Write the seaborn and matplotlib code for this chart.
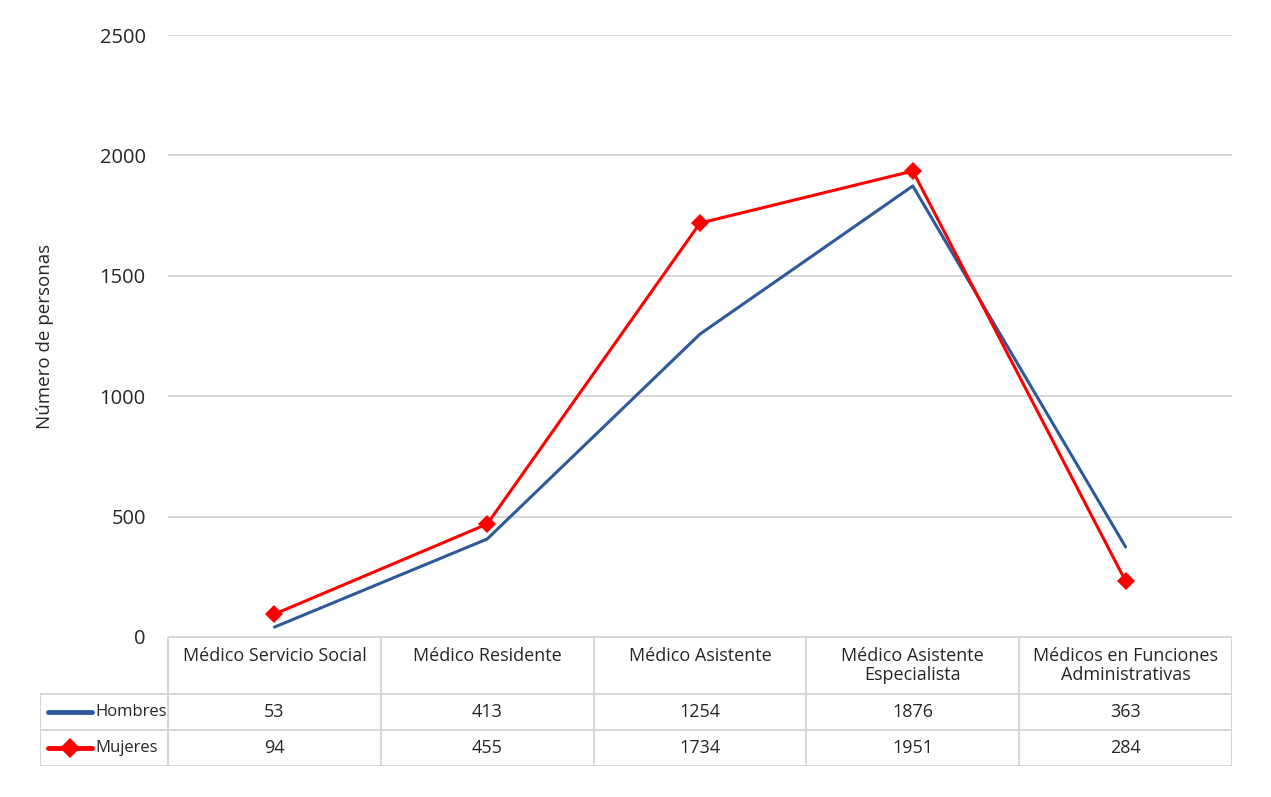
import pandas as pd
import numpy as np
import matplotlib
matplotlib.use('Agg')
import matplotlib.pyplot as plt
import seaborn as sns

categorias = ['Médico Servicio Social', 'Médico Residente', 'Médico Asistente',
              'Médico Asistente\nEspecialista', 'Médicos en Funciones\nAdministrativas']
# values as printed in the data table
hombres_tabla = [53, 413, 1254, 1876, 363]
mujeres_tabla = [94, 455, 1734, 1951, 284]
# values as the lines are drawn in the chart
hombres_linea = [41, 407, 1258, 1873, 374]
mujeres_linea = [95, 469, 1719, 1935, 232]
yticks = [0, 500, 1000, 1500, 2000, 2500]

azul = '#2E5A9C'
rojo = '#FF0000'
gris = '#D4D4D4'

sns.set_style('white')
plt.rcParams['font.family'] = ['Open Sans', 'DejaVu Sans']

W, H = 1271, 797
fig = plt.figure(figsize=(W / 100, H / 100), dpi=100)

def box(l, t, r, b):
    return [l / W, 1 - b / H, (r - l) / W, (b - t) / H]

ax = fig.add_axes(box(168, 35, 1232, 637))
df = pd.DataFrame({'x': list(range(5)) * 2,
                   'valor': hombres_linea + mujeres_linea,
                   'serie': ['Hombres'] * 5 + ['Mujeres'] * 5})
sns.lineplot(data=df[df.serie == 'Hombres'], x='x', y='valor', color=azul,
             linewidth=2.2, ax=ax, legend=False)
sns.lineplot(data=df[df.serie == 'Mujeres'], x='x', y='valor', color=rojo,
             linewidth=2.2, marker='D', markersize=9, markeredgewidth=0,
             ax=ax, legend=False)
ax.set_xlim(-0.5, 4.5)
ax.set_ylim(0, 2500)
ax.set_yticks(yticks)
ax.set_yticklabels([str(t) for t in yticks], fontsize=14.5)
ax.set_xticks([])
ax.set_xlabel('')
ax.set_ylabel('Número de personas', fontsize=13.5, labelpad=33)
ax.yaxis.grid(True, color=gris, linewidth=1.3)
ax.tick_params(axis='y', length=0, pad=16)
for s in ax.spines.values():
    s.set_visible(False)

# data table below the plot, sharing the category positions
unit = (1232 - 168) / 5.0
x_left = -0.5 - (168 - 40) / unit
tb = fig.add_axes(box(40, 637, 1232, 766))
tb.set_xlim(x_left, 4.5)
tb.set_ylim(129, 0)
tb.axis('off')
lw = 1.3
# header
tb.plot([-0.5, 4.5], [0, 0], color=gris, lw=lw)
for i in range(6):
    tb.plot([i - 0.5, i - 0.5], [0, 129], color=gris, lw=lw)
tb.plot([x_left, 4.5], [57, 57], color=gris, lw=lw)
tb.plot([x_left, 4.5], [93, 93], color=gris, lw=lw)
tb.plot([x_left, 4.5], [129, 129], color=gris, lw=lw)
tb.plot([x_left, x_left], [57, 129], color=gris, lw=lw)
for i, c in enumerate(categorias):
    tb.text(i, 10, c, ha='center', va='top', fontsize=13, linespacing=1.05)
for i in range(5):
    tb.text(i, 75, str(hombres_tabla[i]), ha='center', va='center', fontsize=13)
    tb.text(i, 111, str(mujeres_tabla[i]), ha='center', va='center', fontsize=13)
# legend keys
k0 = x_left + 8 / unit
k1 = x_left + 52 / unit
tb.plot([k0, k1], [75, 75], color=azul, lw=3.5, solid_capstyle='round')
tb.plot([k0, k1], [111, 111], color=rojo, lw=3.5, solid_capstyle='round')
tb.plot([(k0 + k1) / 2], [111], color=rojo, marker='D', markersize=10, markeredgewidth=0)
tb.text(k1 + 3 / unit, 75, 'Hombres', ha='left', va='center', fontsize=12)
tb.text(k1 + 3 / unit, 111, 'Mujeres', ha='left', va='center', fontsize=12)

fig.savefig('out.png', dpi=100)
